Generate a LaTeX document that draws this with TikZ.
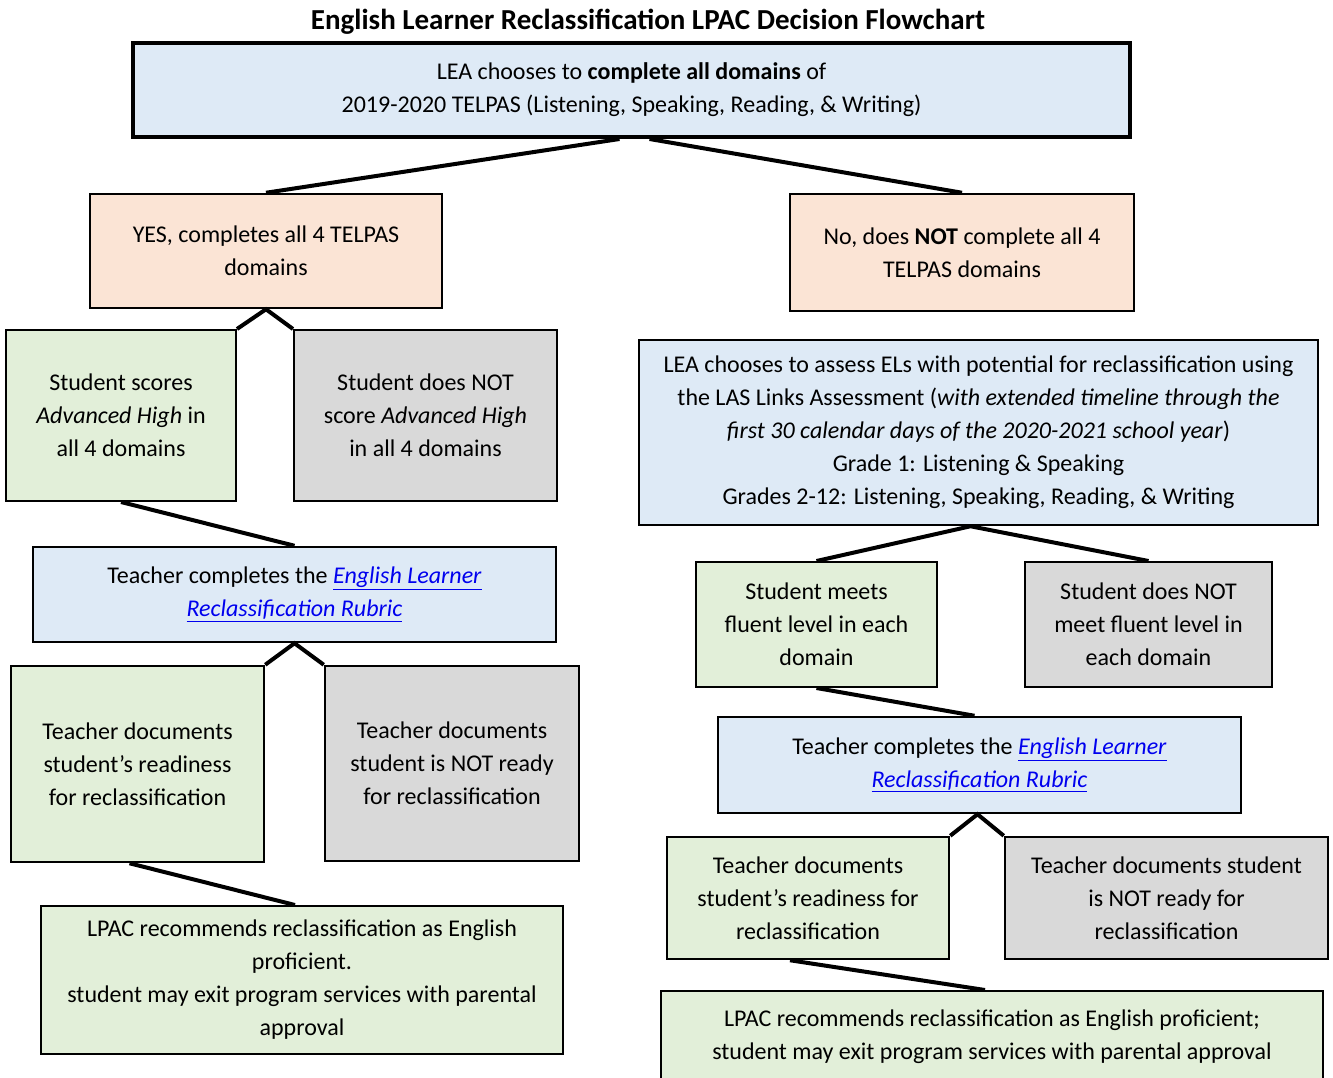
\documentclass[tikz,border=0pt]{standalone}
\usepackage{fontspec}
\setmainfont{Carlito}
\usetikzlibrary{calc}
\definecolor{boxblue}{HTML}{DEEAF6}
\definecolor{boxpeach}{HTML}{FBE4D5}
\definecolor{boxgreen}{HTML}{E2EFD9}
\definecolor{boxgrey}{HTML}{D9D9D9}
\definecolor{linkblue}{HTML}{0000EE}
\newcommand{\rubriclink}[1]{\textcolor{linkblue}{\underline{\textit{#1}}}}
\tikzset{
  box/.style={draw, line width=2.5pt, align=center, inner sep=0pt,
    font=\fontsize{24}{33}\selectfont},
  bluebox/.style={box, fill=boxblue},
  peachbox/.style={box, fill=boxpeach},
  greenbox/.style={box, fill=boxgreen},
  greybox/.style={box, fill=boxgrey},
  link/.style={line width=4pt}
}

\begin{document}
\begin{tikzpicture}[x=1pt, y=-1pt]
      \useasboundingbox (0,0) rectangle (1333,1078);

      \node[font=\fontsize{29}{32}\selectfont\bfseries] (title) at (648,22)
        {English Learner Reclassification LPAC Decision Flowchart};

      % left branch
      \node[bluebox, line width=4pt, minimum width=997pt, minimum height=94pt] (lea) at (631.5,90)
        {LEA chooses to \textbf{complete all domains} of\\
         2019-2020 TELPAS (Listening, Speaking, Reading, \& Writing)};
      \node[peachbox, minimum width=352pt, minimum height=114pt] (yes) at (266,251)
        {YES, completes all 4 TELPAS\\ domains};
      \node[greenbox, line width=2pt, minimum width=230pt, minimum height=171pt] (scores) at (121,415.5)
        {Student scores\\ \textit{Advanced High} in\\ all 4 domains};
      \node[greybox, line width=2pt, minimum width=263pt, minimum height=171pt] (noscore) at (425.5,415.5)
        {Student does NOT\\ score \textit{Advanced High}\\ in all 4 domains};
      \node[bluebox, minimum width=523pt, minimum height=95pt] (rubricl) at (294.5,594.5)
        {Teacher completes the \rubriclink{English Learner}\\ \rubriclink{Reclassification Rubric}};
      \node[greenbox, minimum width=253pt, minimum height=196pt] (readyl) at (137.5,764)
        {Teacher documents\\ student’s readiness\\ for reclassification};
      \node[greybox, minimum width=254pt, minimum height=195pt] (notreadyl) at (452,763.5)
        {Teacher documents\\ student is NOT ready\\ for reclassification};
      \node[greenbox, line width=2pt, minimum width=522pt, minimum height=148pt] (lpacl) at (302,980)
        {LPAC recommends reclassification as English\\ proficient.\\
         student may exit program services with parental\\ approval};

      % right branch
      \node[peachbox, minimum width=344pt, minimum height=117pt] (no) at (962,252.5)
        {No, does \textbf{NOT} complete all 4\\ TELPAS domains};
      \node[bluebox, minimum width=679pt, minimum height=185pt] (assess) at (978.5,432.5)
        {LEA chooses to assess ELs with potential for reclassification using\\
         the LAS Links Assessment (\textit{with extended timeline through the}\\
         \textit{first 30 calendar days of the 2020-2021 school year})\\
         Grade 1: Listening \& Speaking\\
         Grades 2-12: Listening, Speaking, Reading, \& Writing};
      \node[greenbox, line width=2pt, minimum width=241pt, minimum height=125pt] (fluent) at (816.5,624.5)
        {Student meets\\ fluent level in each\\ domain};
      \node[greybox, line width=2pt, minimum width=247pt, minimum height=125pt] (nofluent) at (1148.5,624.5)
        {Student does NOT\\ meet fluent level in\\ each domain};
      \node[bluebox, minimum width=523pt, minimum height=96pt] (rubricr) at (979.5,765)
        {Teacher completes the \rubriclink{English Learner}\\ \rubriclink{Reclassification Rubric}};
      \node[greenbox, minimum width=282pt, minimum height=122pt] (readyr) at (808,898)
        {Teacher documents\\ student’s readiness for\\ reclassification};
      \node[greybox, minimum width=323pt, minimum height=122pt] (notreadyr) at (1166.5,898)
        {Teacher documents student\\ is NOT ready for\\ reclassification};
      \node[greenbox, line width=2pt, minimum width=662pt, minimum height=92pt] (lpacr) at (992,1037)
        {LPAC recommends reclassification as English proficient;\\
         student may exit program services with parental approval};

      % connectors
      \draw[link] ($(lea.south)+(-12,0)$) -- (yes.north);
      \draw[link] ($(lea.south)+(18,0)$) -- (no.north);
      \draw[link] (scores.north east) -- (yes.south) -- (noscore.north west);
      \draw[link] (scores.south) -- (rubricl.north);
      \draw[link] (readyl.north east) -- (rubricl.south) -- (notreadyl.north west);
      \draw[link] ($(readyl.south)+(-8,0)$) -- ($(lpacl.north)+(-7,0)$);
      \draw[link] ($(no.south)+(11,0)$) -- ($(no.south)+(11,0)$ |- assess.north);
      \draw[link] (fluent.north) -- ($(assess.south)+(-8,0)$) -- (nofluent.north);
      \draw[link] (fluent.south) -- ($(rubricr.north)+(-5,0)$);
      \draw[link] (readyr.north east) -- ($(rubricr.south)+(-2,0)$) -- (notreadyr.north west);
      \draw[link] ($(readyr.south)+(-18,0)$) -- ($(lpacr.north)+(-7,0)$);
\end{tikzpicture}
\end{document}
